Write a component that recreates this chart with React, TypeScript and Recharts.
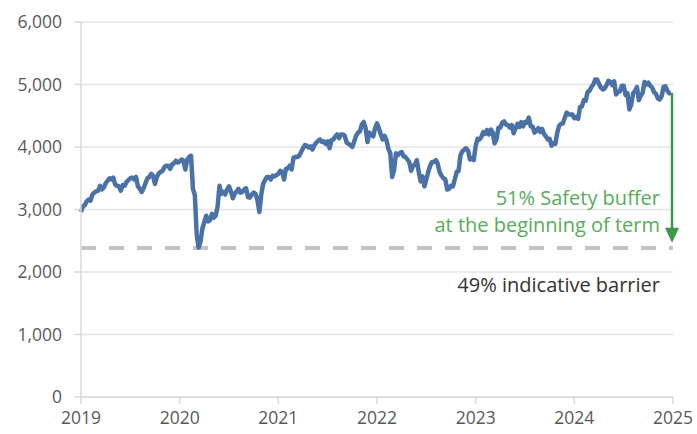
import React from "react";
import {
  CartesianGrid,
  Line,
  LineChart,
  ReferenceDot,
  ReferenceLine,
  XAxis,
  YAxis,
} from "recharts";

// weekly closes
const y2019 = [
  2960, 3050, 3070, 3130, 3160, 3140, 3240, 3270, 3290, 3300, 3380, 3320, 3350,
  3420, 3460, 3500, 3480, 3510, 3400, 3380, 3370, 3300, 3390, 3380, 3440, 3470,
  3500, 3510, 3480, 3520, 3370, 3330, 3280, 3340, 3420, 3500, 3520, 3570, 3540,
  3410, 3520, 3580, 3600, 3620, 3680, 3700, 3700, 3650, 3720, 3740, 3780, 3750,
];
const y2020 = [
  3770, 3800, 3780, 3640, 3800, 3840, 3860, 3330, 3230, 2590, 2390, 2490, 2700,
  2800, 2900, 2810, 2830, 2930, 2870, 2900, 3050, 3380, 3250, 3280, 3240, 3320,
  3370, 3290, 3180, 3250, 3290, 3330, 3270, 3280, 3320, 3340, 3200, 3190, 3240,
  3270, 3250, 3150, 2960, 3240, 3410, 3470, 3520, 3520, 3480, 3540, 3530, 3550,
];
const y2021 = [
  3570, 3620, 3600, 3480, 3650, 3660, 3700, 3640, 3830, 3840, 3840, 3860, 3920,
  3980, 4030, 4020, 3990, 4010, 3960, 4030, 4070, 4100, 4120, 4080, 4090, 4050,
  4090, 3980, 4110, 4120, 4170, 4200, 4140, 4200, 4200, 4180, 4070, 4050, 4030,
  4000, 4090, 4180, 4230, 4250, 4360, 4400, 4300, 4080, 4230, 4200, 4170, 4300,
];
const y2022 = [
  4380, 4300, 4200, 4120, 4180, 4110, 3970, 3900, 3520, 3630, 3900, 3870, 3900,
  3920, 3850, 3840, 3800, 3760, 3620, 3700, 3710, 3790, 3600, 3450, 3530, 3370,
  3480, 3600, 3700, 3760, 3760, 3790, 3730, 3600, 3540, 3500, 3480, 3320, 3330,
  3380, 3370, 3480, 3600, 3620, 3870, 3930, 3960, 3980, 3940, 3800, 3820, 3790,
];
const y2023 = [
  4020, 4130, 4120, 4160, 4240, 4210, 4270, 4200, 4280, 4230, 4060, 4130, 4310,
  4310, 4390, 4410, 4360, 4350, 4310, 4350, 4220, 4300, 4370, 4320, 4400, 4330,
  4400, 4390, 4470, 4330, 4330, 4230, 4260, 4300, 4240, 4290, 4210, 4170, 4120,
  4130, 4020, 4060, 4050, 4230, 4340, 4370, 4380, 4470, 4550, 4520, 4520, 4520,
];
const y2024 = [
  4460, 4480, 4450, 4640, 4650, 4750, 4740, 4880, 4900, 4960, 5000, 5080, 5080,
  5010, 4950, 4920, 4940, 4990, 5060, 5040, 4990, 5050, 4840, 4880, 4890, 4980,
  4980, 4830, 4860, 4600, 4680, 4860, 4900, 4960, 4750, 4820, 4870, 5040, 5000,
  5030, 4980, 4950, 4880, 4850, 4780, 4760, 4810, 4960, 4970, 4900, 4860, 4870,
];

const years = [2019, 2020, 2021, 2022, 2023, 2024];
const yearTicks = [2019, 2020, 2021, 2022, 2023, 2024, 2025];
const valueTicks = [0, 1000, 2000, 3000, 4000, 5000, 6000];
const barrier = 2384;
const lastLevel = 4866;
const arrowTip = 2470;

const series = [y2019, y2020, y2021, y2022, y2023, y2024];
const data = series.flatMap((vals, k) =>
  vals.map((v, i) => ({ t: years[k] + i / 52, v })),
);

const FONT = "'Open Sans', 'Noto Sans', sans-serif";
const GREEN = "#3a9b47";
const TEXT_GREEN = "#56ad5a";

function ArrowHead(props: any) {
  const { cx, cy } = props;
  if (cx == null || cy == null) return null;
  return (
    <polygon
      points={`${cx - 7},${cy - 15} ${cx + 7},${cy - 15} ${cx},${cy}`}
      fill={GREEN}
    />
  );
}

export default function App() {
  return (
    <div style={{ position: "absolute", left: 0, top: 0, width: 697, height: 434, fontFamily: FONT }}>
      <LineChart
        width={697}
        height={434}
        data={data}
        margin={{ top: 22, right: 24, bottom: 7, left: 0 }}
      >
        <CartesianGrid vertical={false} stroke="#e3e3e3" strokeWidth={1.5} />
        <XAxis
          dataKey="t"
          type="number"
          domain={[2019, 2025]}
          ticks={yearTicks}
          tickFormatter={(v) => String(v)}
          stroke="#d9d9d9"
          strokeWidth={1.5}
          tickSize={7}
          tickMargin={8}
          height={30}
          tick={{ fontSize: 17.5, fill: "#595959", fontFamily: FONT }}
        />
        <YAxis
          type="number"
          domain={[0, 6000]}
          ticks={valueTicks}
          tickFormatter={(v) => v.toLocaleString("en-US")}
          stroke="#d9d9d9"
          strokeWidth={1.5}
          tickSize={7}
          tickMargin={12}
          width={81}
          tick={{ fontSize: 17.5, fill: "#595959", fontFamily: FONT }}
        />
        <ReferenceLine
          y={barrier}
          stroke="#c3c3c3"
          strokeWidth={4}
          strokeDasharray="15 13"
        />
        <Line
          dataKey="v"
          stroke="#4a72a6"
          strokeWidth={4.5}
          dot={false}
          isAnimationActive={false}
          strokeLinejoin="round"
        />
        <ReferenceLine
          segment={[
            { x: 2024.99, y: lastLevel },
            { x: 2024.99, y: arrowTip + 150 },
          ]}
          stroke={GREEN}
          strokeWidth={2.5}
        />
        <ReferenceDot x={2024.99} y={arrowTip} shape={ArrowHead} />
      </LineChart>
      <div
        style={{
          position: "absolute",
          right: 37,
          top: 184,
          textAlign: "right",
          color: TEXT_GREEN,
          fontSize: 20,
          lineHeight: "27px",
          whiteSpace: "nowrap",
        }}
      >
        51% Safety buffer
        <br />
        at the beginning of term
      </div>
      <div
        style={{
          position: "absolute",
          right: 37,
          top: 271,
          color: "#333333",
          fontSize: 20,
          lineHeight: "27px",
          whiteSpace: "nowrap",
        }}
      >
        49% indicative barrier
      </div>
    </div>
  );
}
